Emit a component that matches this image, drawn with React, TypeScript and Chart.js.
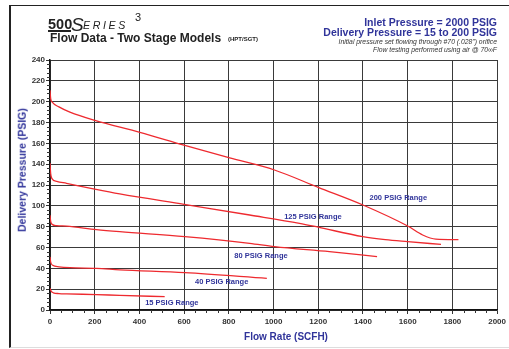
import React, { useEffect, useRef } from "react";
import { Chart, registerables } from "chart.js";

Chart.register(...registerables);

// ---- Data ----
const FLOW_200 = [0, 3, 10, 40, 89, 201, 402, 603, 804, 1004, 1200, 1400, 1600, 1667, 1726, 1827];
const PSIG_200 = [211, 203, 199.5, 195, 190, 182, 170.5, 158, 146, 134.4, 117.7, 100.8, 80.6, 72, 68, 67.5];

const FLOW_125 = [0, 3, 8, 30, 74, 200, 312, 600, 893, 1116, 1200, 1399, 1500, 1600, 1749];
const PSIG_125 = [141, 131, 126.4, 123.5, 121.6, 116, 111.4, 101.4, 91.2, 83.2, 79.5, 70.4, 67.5, 65.6, 63];

const FLOW_80 = [0, 3, 10, 30, 74, 208, 312, 603, 893, 1004, 1250, 1463];
const PSIG_80 = [91, 85, 82.2, 81, 80.5, 77.2, 75.2, 70.4, 64, 60.8, 56, 51.2];

const FLOW_40 = [0, 3, 12, 40, 89, 208, 312, 603, 970];
const PSIG_40 = [51, 46, 43, 41.5, 40.6, 40, 38.6, 35.8, 30.4];

const FLOW_15 = [0, 4, 15, 40, 74, 208, 312, 513];
const PSIG_15 = [21, 18.5, 16.5, 15.8, 15.5, 14.8, 14, 12.8];

const RANGE_LABELS = ["200 PSIG Range", "125 PSIG Range", "80 PSIG Range", "40 PSIG Range", "15 PSIG Range"];
const LABEL_FLOW = [1558, 1176, 944, 768, 545];
const LABEL_PSIG = [107.5, 89.6, 52.1, 27.2, 7];

const X_MIN = 0;
const X_MAX = 2000;
const X_STEP = 200;
const X_MINOR = 50;
const Y_MIN = 0;
const Y_MAX = 240;
const Y_STEP = 20;
const Y_MINOR = 4;

const FONT = "'Liberation Sans', Arial, Helvetica, sans-serif";
const BLUE = "#30349a";
const RED = "#ee2a2f";

function pts(xs: number[], ys: number[]) {
  return xs.map((x, i) => ({ x, y: ys[i] }));
}

const extras = {
  id: "extras",
  afterDraw(chart: any) {
    const { ctx } = chart;
    const x = chart.scales.x;
    const y = chart.scales.y;
    ctx.save();
    ctx.strokeStyle = "#333";
    ctx.lineWidth = 1;
    ctx.beginPath();
    for (let v = X_MIN; v <= X_MAX; v += X_MINOR) {
      if (v % X_STEP === 0) continue;
      const px = Math.round(x.getPixelForValue(v)) + 0.5;
      ctx.moveTo(px, y.bottom);
      ctx.lineTo(px, y.bottom + 3);
    }
    for (let v = Y_MIN; v <= Y_MAX; v += Y_MINOR) {
      if (v % Y_STEP === 0) continue;
      const py = Math.round(y.getPixelForValue(v)) + 0.5;
      ctx.moveTo(x.left - 3, py);
      ctx.lineTo(x.left, py);
    }
    ctx.stroke();
    ctx.fillStyle = BLUE;
    ctx.font = `bold 7.5px ${FONT}`;
    ctx.textAlign = "center";
    ctx.textBaseline = "middle";
    RANGE_LABELS.forEach((t, i) => {
      ctx.fillText(t, x.getPixelForValue(LABEL_FLOW[i]), y.getPixelForValue(LABEL_PSIG[i]));
    });
    ctx.restore();
  },
};

function txt(
  text: string,
  size: number,
  capCenter: number,
  pos: { left?: number; right?: number },
  extra: React.CSSProperties = {}
) {
  return (
    <div
      style={{
        position: "absolute",
        top: capCenter - size / 2,
        ...(pos.left !== undefined ? { left: pos.left } : {}),
        ...(pos.right !== undefined ? { right: pos.right, textAlign: "right" } : {}),
        fontFamily: FONT,
        fontSize: size,
        lineHeight: `${size}px`,
        whiteSpace: "nowrap",
        ...extra,
      }}
    >
      {text}
    </div>
  );
}

export default function App() {
  const ref = useRef<HTMLCanvasElement | null>(null);

  useEffect(() => {
    if (!ref.current) return;
    const ds = (xs: number[], ys: number[]) => ({
      data: pts(xs, ys),
      borderColor: RED,
      borderWidth: 1.3,
      pointRadius: 0,
      fill: false,
      showLine: true,
      cubicInterpolationMode: "monotone" as const,
    });
    const tickFont = { family: FONT, size: 8, weight: "bold" as const };
    const plain = (v: any) => String(v);
    const chart = new Chart(ref.current, {
      type: "line",
      data: {
        datasets: [
          ds(FLOW_200, PSIG_200),
          ds(FLOW_125, PSIG_125),
          ds(FLOW_80, PSIG_80),
          ds(FLOW_40, PSIG_40),
          ds(FLOW_15, PSIG_15),
        ],
      },
      options: {
        responsive: false,
        animation: false,
        events: [],
        layout: { padding: { top: 60, right: 11, left: 0, bottom: 0 } },
        plugins: { legend: { display: false }, tooltip: { enabled: false }, title: { display: false } },
        scales: {
          x: {
            type: "linear",
            min: X_MIN,
            max: X_MAX,
            ticks: { stepSize: X_STEP, font: tickFont, color: "#333", padding: 3, maxRotation: 0, autoSkip: false, callback: plain },
            grid: { color: "#3a3a3a", lineWidth: 1, tickLength: 4, tickColor: "#333" },
            border: { color: "#111", width: 1.5 },
            afterFit: (s: any) => {
              s.height = 39;
            },
          },
          y: {
            type: "linear",
            min: Y_MIN,
            max: Y_MAX,
            ticks: { stepSize: Y_STEP, font: tickFont, color: "#333", padding: 1, autoSkip: false, callback: plain },
            grid: { color: "#3a3a3a", lineWidth: 1, tickLength: 4, tickColor: "#333" },
            border: { color: "#111", width: 1.5 },
            afterFit: (s: any) => {
              s.width = 50;
            },
          },
        },
      },
      plugins: [extras],
    });
    return () => chart.destroy();
  }, []);

  return (
    <div
      style={{
        position: "fixed",
        left: 0,
        top: 0,
        width: 509,
        height: 349,
        background: "#fff",
        overflow: "hidden",
        color: "#222",
      }}
    >
      <div
        style={{
          position: "absolute",
          left: 9,
          top: 5,
          width: 520,
          height: 341,
          borderLeft: "2px solid #222",
          borderTop: "1.5px solid #222",
          borderBottom: "1px solid #ddd",
        }}
      />
      <canvas ref={ref} width={509} height={349} style={{ position: "absolute", left: 0, top: 0, display: "block" }} />

      {/* logo */}
      {txt("500", 14.5, 24, { left: 48 }, { fontWeight: 900, color: "#222" })}
      <div style={{ position: "absolute", left: 48, top: 30, width: 23, height: 2, background: "#222" }} />
      {txt("S", 19, 24, { left: 71 }, { fontStyle: "italic", color: "#222" })}
      {txt("ERIES", 10.6, 25.5, { left: 83 }, { fontStyle: "italic", color: "#222", letterSpacing: 2.6 })}
      {txt("3", 11, 17.5, { left: 135 }, { color: "#222" })}

      {txt("Flow Data - Two Stage Models", 12, 37.7, { left: 50 }, { fontWeight: "bold", color: "#222" })}
      {txt("(HPT/SGT)", 6, 39.2, { left: 228 }, { fontWeight: "bold", color: "#222" })}

      {txt("Inlet Pressure = 2000 PSIG", 10.5, 22.5, { right: 12 }, { fontWeight: "bold", color: BLUE })}
      {txt("Delivery Pressure = 15 to 200 PSIG", 10.5, 32.7, { right: 12 }, { fontWeight: "bold", color: BLUE })}
      {txt("Initial pressure set flowing through #70 (.028\") orifice", 6.8, 42.5, { right: 12 }, { fontStyle: "italic", color: "#333" })}
      {txt("Flow testing performed using air @ 70\u221EF", 6.8, 50.5, { right: 12 }, { fontStyle: "italic", color: "#333" })}

      {/* axis titles */}
      <div
        style={{
          position: "absolute",
          left: 286,
          top: 336.7 - 5,
          transform: "translateX(-50%)",
          fontFamily: FONT,
          fontSize: 10,
          lineHeight: "10px",
          fontWeight: "bold",
          color: BLUE,
          whiteSpace: "nowrap",
        }}
      >
        Flow Rate (SCFH)
      </div>
      <div
        style={{
          position: "absolute",
          left: 22,
          top: 169.5,
          transform: "translate(-50%, -50%) rotate(-90deg)",
          fontFamily: FONT,
          fontSize: 10.5,
          lineHeight: "10.5px",
          fontWeight: "bold",
          color: BLUE,
          whiteSpace: "nowrap",
        }}
      >
        Delivery Pressure (PSIG)
      </div>
    </div>
  );
}
